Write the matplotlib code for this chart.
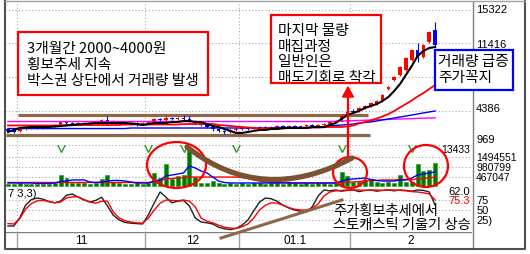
import matplotlib
matplotlib.use('Agg')
import matplotlib.pyplot as plt
from matplotlib.patches import Rectangle, Ellipse, Polygon, PathPatch
from matplotlib.path import Path
import numpy as np

plt.rcParams['font.family'] = ['Noto Sans CJK KR', 'DejaVu Sans']

# ---- daily data, Nov .. Feb (74 trading days) ----
open_ = [2030, 1920, 1810, 2030, 2140, 2250, 2140, 2250, 2360, 2470,
         2810, 2700, 2580, 2700, 2580, 2700, 2810, 3030, 2920, 2810,
         2700, 2580, 2700, 2580, 2700, 2810, 3140, 3030, 3250, 3140,
         3250, 3140, 2920, 2700, 2470, 2250, 2030, 1810, 1700, 1920,
         2030, 2140, 2030, 2140, 2250, 2140, 2250, 2360, 2250, 2360,
         2250, 2360, 2470, 2360, 2470, 2580, 2810, 2920, 3470, 4030,
         4030, 4360, 4580, 4800, 5140, 6470, 7470, 8020, 8580, 9690,
         10800, 10020, 11690, 13020]
close = [1810, 1700, 2030, 2140, 2250, 2140, 2250, 2360, 2470, 2810,
         2700, 2580, 2700, 2580, 2700, 2810, 3030, 2920, 2810, 2700,
         2580, 2700, 2580, 2700, 2810, 3140, 3030, 3250, 3140, 3250,
         3140, 2920, 2700, 2470, 2250, 2030, 1810, 1700, 1920, 2030,
         2140, 2030, 2140, 2250, 2140, 2250, 2360, 2250, 2360, 2250,
         2360, 2470, 2360, 2470, 2580, 2810, 2920, 3470, 3920, 3920,
         4360, 4580, 4920, 5140, 5800, 6690, 7800, 8910, 9910, 10800,
         10020, 11350, 12800, 11350]
high = [2140, 2030, 2140, 2250, 2360, 2360, 2360, 2470, 2580, 2920,
        2920, 2810, 2810, 2810, 2810, 2920, 3140, 3470, 3030, 2920,
        2810, 2810, 2810, 2810, 2920, 3250, 3250, 3470, 3360, 3360,
        3580, 3470, 3030, 2810, 2580, 2360, 2140, 1920, 2030, 2140,
        2250, 2250, 2250, 2360, 2360, 2360, 2470, 2470, 2470, 2470,
        2470, 2580, 2580, 2580, 2700, 2920, 3030, 3690, 4030, 4250,
        4470, 4690, 5030, 5250, 5910, 6800, 7910, 9020, 10020, 10910,
        11580, 11460, 12910, 13910]
low = [1700, 1590, 1700, 1920, 2030, 2030, 2030, 2140, 2250, 2360,
       2580, 2470, 2470, 2470, 2470, 2580, 2700, 2810, 2700, 2580,
       2470, 2470, 2360, 2470, 2580, 2700, 2920, 2920, 3030, 3030,
       2920, 2810, 2580, 2360, 2140, 1810, 1700, 1470, 1590, 1810,
       1920, 1920, 1920, 2030, 2030, 2030, 2140, 2140, 2140, 2140,
       2140, 2250, 2250, 2250, 2360, 2470, 2700, 2810, 3360, 3810,
       3920, 4250, 4470, 4690, 5030, 6360, 7360, 7910, 8470, 9580,
       9470, 9910, 11580, 11240]

ma5 = [1700, 1920, 2140, 2200, 2250, 2250, 2250, 2250, 2310, 2360,
       2420, 2470, 2530, 2580, 2640, 2700, 2700, 2700, 2700, 2700,
       2700, 2640, 2580, 2470, 2580, 2700, 2700, 2700, 2810, 2810,
       2920, 2920, 2810, 2810, 2580, 2360, 2250, 2030, 1810, 1590,
       1590, 1700, 1810, 1920, 1920, 2030, 2030, 2140, 2140, 2140,
       2140, 2140, 2250, 2250, 2250, 2470, 2700, 3140, 3580, 3810,
       4030, 4360, 4580, 4800, 5140, 5580, 6250, 7020, 8020, 9020,
       10130, 10690, 11020, 11130]
ma20 = [2420] * 10 + [2470] * 10 + [2530] * 10 + [2580] * 6 + \
       [2470, 2420, 2360, 2310, 2250, 2200, 2140, 2080, 2080, 2080,
        2080, 2080, 2140, 2140, 2140, 2140, 2200, 2200, 2250, 2250,
        2250, 2250, 2310, 2420, 2640, 2810, 2970, 3190, 3420, 3690,
        4030, 4420, 4800, 5190, 5640, 6020, 6470, 6910]
ma60 = [2080] * 21 + [2140] * 25 + [2200] * 9 + \
       [2360, 2420, 2470, 2530, 2580, 2700, 2750, 2810, 2920, 3030,
        3140, 3250, 3360, 3470, 3580, 3690, 3810, 3920, 4030]
ma120 = [2860] * 56 + \
        [2880, 2910, 2940, 2950, 2980, 3000, 3030, 3050, 3070, 3090,
         3120, 3140, 3160, 3180, 3210, 3230, 3250, 3270]

# volume in thousands of shares
volume_k = [100, 100, 155, 100, 100, 100, 100, 100, 155, 565,
            410, 155, 155, 155, 100, 155, 360, 565, 205, 155,
            100, 100, 155, 100, 155, 670, 410, 1130, 360, 515,
            565, 1950, 460, 155, 155, 255, 155, 100, 155, 100,
            155, 100, 155, 155, 100, 155, 155, 100, 205, 155,
            100, 155, 100, 155, 155, 100, 155, 720, 515, 205,
            205, 310, 360, 205, 155, 205, 155, 565, 205, 205,
            1130, 770, 820, 1180]
vol_ma5_k = [155, 155, 155, 155, 155, 130, 130, 130, 155,
             230, 255, 310, 310, 310,
             205, 180, 205, 255, 285, 285, 255, 205, 155, 155, 155,
             255, 310, 515, 565, 615, 670, 1030, 925, 770, 670, 460,
             255, 180] + [155] * 19 + \
            [255, 335, 360, 385, 410, 335, 285, 255, 255, 255,
             310, 310, 410, 565, 615, 670, 720]
vol_ma20_k = [180] * 25 + \
             [205, 285, 360, 385, 410, 435, 460, 460, 460, 460,
              460, 460, 460, 460, 460, 435, 385, 310, 255, 205,
              180, 180, 180, 180] + [155] * 8 + \
             [180, 205, 205, 230, 255, 285, 285, 310, 310, 310,
              335, 335, 335, 360, 385, 410, 460]

stoch_k = [10, 10, 30, 62, 76, 80, 77, 71, 68, 72,
           87, 90, 82, 75, 70, 74, 82, 60, 37, 25,
           19, 17, 16, 15, 38, 68, 95, 82, 68, 72,
           74, 60, 30, 20, 18, 15, 7, 3, 1, 4,
           12, 25, 48, 70, 80, 78, 72, 62, 55, 50,
           47, 45, 58, 85, 100, 98, 100, 97, 99, 100,
           96, 99, 100, 97, 99, 100, 98, 100, 99, 97,
           100, 99, 95, 62]
stoch_d = [16, 15, 28, 52, 66, 73, 74, 71, 68, 70,
           80, 83, 83, 76, 70, 67, 72, 72, 45, 30,
           23, 20, 18, 17, 30, 50, 67, 75, 74, 73,
           75, 72, 58, 30, 22, 18, 12, 7, 5, 4,
           8, 15, 30, 50, 62, 68, 67, 62, 56, 52,
           50, 50, 55, 65, 85, 95, 98, 99, 100, 100,
           100, 99, 100, 100, 99, 100, 100, 99, 98, 96,
           95, 93, 90, 75]

signal_days = [9, 24, 30, 39, 57, 69]
month_labels = ['11', '12', '01.1', '2']
month_first_day = [2, 24, 40, 59]
price_ticks = [969, 4386, 11416, 15322]
price_grid = [15240, 11580, 7800, 4030]
volume_ticks = [467047, 980799, 1494551]
stoch_ticks = [25, 50, 75]
stoch_labels = ['25)', '50', '75']
box_levels = [3580, 1360]
box_from = [1.7, -0.3]
box_to = [61.5, 61.8]

# ---- layout ----
W, H = 530, 254
RED, BLUE, GREEN, BROWN = '#ff0000', '#0000ff', '#007a00', '#7b5232'
grid_kw = dict(color='#a8a8a8', lw=0.8, linestyle=(0, (1, 2)))
num_font = 'Liberation Sans'
note_size = 10.6

o, c, h, l = (np.array(a, float) for a in (open_, close, high, low))
idx = np.arange(len(c))
x_lo, x_hi = -0.51, 79.3
bounds = [d - 0.5 for d in month_first_day]

fig = plt.figure(figsize=(W / 100, H / 100), dpi=100)
fig.patch.set_facecolor('white')


def panel(x0, y0, x1, y1):
    ax = fig.add_axes([x0 / W, 1 - y1 / H, (x1 - x0) / W, (y1 - y0) / H])
    for s in ax.spines.values():
        s.set_visible(False)
    ax.set_facecolor('none')
    ax.yaxis.tick_right()
    ax.tick_params(axis='y', length=0, pad=3)
    ax.set_xticks([])
    ax.set_xlim(x_lo, x_hi)
    return ax


# price panel
ax_p = panel(5, 3, 472, 145)
ax_p.set_ylim(253, 16015)
for g in price_grid:
    ax_p.axhline(g, **grid_kw)
for b in bounds:
    ax_p.axvline(b, **grid_kw)
ax_p.hlines(box_levels, box_from, box_to, color='#8c6848', lw=2.3, zorder=2)
cols = np.where(c >= o, RED, BLUE)
ax_p.vlines(idx, l, h, colors=cols, lw=0.8, zorder=3)
ax_p.bar(idx, np.maximum(np.abs(c - o), 60), bottom=np.minimum(o, c),
         width=0.62, color=cols, zorder=3)
ax_p.plot(idx, ma120, color='#ff00ff', lw=1.0, zorder=4)
ax_p.plot(idx, ma60, color=BLUE, lw=1.0, zorder=4)
ax_p.plot(idx, ma20, color=RED, lw=1.3, zorder=4)
ax_p.plot(idx, ma5, color='black', lw=1.5, zorder=5)
ax_p.set_yticks(price_ticks)
ax_p.set_yticklabels([str(t) for t in price_ticks], fontsize=8, fontfamily=num_font)

# volume panel
vol = np.array(volume_k) * 1000
ax_v = panel(5, 145, 472, 187)
ax_v.set_ylim(-51375, 2106375)
for g in volume_ticks:
    ax_v.axhline(g, **grid_kw)
ax_v.axhline(2095000, **grid_kw)
for b in bounds:
    ax_v.axvline(b, **grid_kw)
ax_v.bar(idx, vol, width=0.68, color=GREEN, edgecolor='#2fa02f', lw=0.5, zorder=3)
ax_v.plot(idx, np.array(vol_ma20_k) * 1000, color=RED, lw=1.0, zorder=4)
ax_v.plot(idx, np.array(vol_ma5_k) * 1000, color=BLUE, lw=1.0, zorder=4)
ax_v.plot(signal_days, [1960000] * len(signal_days), 'v', ms=6,
          mfc='white', mec='#2e9a2e', mew=1.0, zorder=5)
ax_v.set_yticks(volume_ticks)
ax_v.set_yticklabels([str(t) for t in volume_ticks], fontsize=7.5, fontfamily=num_font)
ax_v.text(0.996, 0.88, str(13433), transform=ax_v.transAxes, ha='right',
          va='center', fontsize=7.5, fontfamily=num_font)

# stochastic panel
ax_s = panel(5, 187, 472, 232)
ax_s.set_ylim(-5, 107.5)
for g in stoch_ticks:
    ax_s.axhline(g, **grid_kw)
for b in bounds:
    ax_s.axvline(b, **grid_kw)
ax_s.plot(idx, stoch_k, color='#202020', lw=1.0, zorder=4)
ax_s.plot(idx, stoch_d, color=RED, lw=1.0, zorder=4)
ax_s.set_yticks(stoch_ticks)
ax_s.set_yticklabels(stoch_labels, fontsize=8, fontfamily=num_font)
ax_s.text(0.006, 0.84, '7 3,3)', transform=ax_s.transAxes, ha='left',
          va='center', fontsize=8, fontfamily=num_font)
ax_s.text(0.996, 0.89, '%.1f' % stoch_k[-1], transform=ax_s.transAxes,
          ha='right', va='center', fontsize=8, fontfamily=num_font)
ax_s.text(0.996, 0.69, '%.1f' % 75.3, transform=ax_s.transAxes, ha='right',
          va='center', fontsize=8, color=RED, fontfamily=num_font)

# month strip
ax_x = panel(5, 232, 472, 249)
ax_x.set_ylim(0, 1)
ax_x.set_yticks([])
ax_x.axhline(1, color='#808080', lw=1.0)
ax_x.vlines(bounds, 0, 1, color='#a0a0a0', lw=1.0)
edges = bounds + [x_hi]
for lab, a, b in zip(month_labels, edges[:-1], edges[1:]):
    ax_x.text((a + b) / 2, 0.45, lab, ha='center', va='center',
              fontsize=8.5, fontfamily=num_font)

# ---- hand drawn notes on top (pixel coords) ----
ax_o = fig.add_axes([0, 0, 1, 1])
ax_o.set_xlim(0, W)
ax_o.set_ylim(H, 0)
ax_o.axis('off')
ax_o.patch.set_alpha(0)

ax_o.plot([472.5, 472.5], [2, 249], color='#808080', lw=1.0)
ax_o.plot([4.5, 4.5, 524.5, 524.5], [1, 249, 249, 1], color='#505050', lw=1.5)
ax_o.plot([4.5, 524.5], [1, 1], color='#a0a0a0', lw=1.0)

ax_o.add_patch(Rectangle((18, 32), 190, 63, fc='white', ec=RED, lw=1.6, zorder=6))
for y, t in zip([49, 65, 81], ['3개월간 2000~4000원', '횡보추세 지속', '박스권 상단에서 거래량 발생']):
    ax_o.text(27, y, t, fontsize=note_size, va='center', ha='left', zorder=7)

ax_o.add_patch(Rectangle((271, 15), 110, 68, fc='white', ec=RED, lw=1.6, zorder=6))
for y, t in zip([31, 47, 62, 78], ['마지막 물량', '매집과정', '일반인은', '매도기회로 착각']):
    ax_o.text(278, y, t, fontsize=note_size, va='center', ha='left', zorder=7)

ax_o.add_patch(Rectangle((435, 50), 78, 40, fc='white', ec=BLUE, lw=1.6, zorder=6))
for y, t in zip([62, 78], ['거래량 급증', '주가꼭지']):
    ax_o.text(438, y, t, fontsize=note_size, va='center', ha='left', zorder=7)

# arrow from volume circle up to the note
ax_o.plot([348, 348], [96, 157], color=RED, lw=1.6, zorder=6)
ax_o.add_patch(Polygon([(342.5, 97), (353.5, 97), (348, 87)], closed=True,
                       color=RED, zorder=6))

# circles around volume spikes
for cx, cy, ew, eh in [(176.5, 165, 59, 46), (350, 172.5, 34, 31), (426, 166, 44, 42)]:
    ax_o.add_patch(Ellipse((cx, cy), ew, eh, fill=False, ec=RED, lw=1.6, zorder=6))

# rounded bottom on volume
arc = Path([(187, 147), (262, 206), (352, 158)], [Path.MOVETO, Path.CURVE3, Path.CURVE3])
ax_o.add_patch(PathPatch(arc, fill=False, ec=BROWN, lw=3.8, capstyle='round', zorder=6))

# rising stochastic line
ax_o.plot([221, 342], [238, 200], color='#8c6848', lw=2.2, zorder=6)
ax_o.text(333, 211, '주가횡보추세에서', fontsize=10.3, va='center', ha='left', zorder=7)
ax_o.text(333, 225, '스토캐스틱 기울기 상승', fontsize=10.3, va='center', ha='left', zorder=7)

fig.savefig('out.png', dpi=100, facecolor='white')
